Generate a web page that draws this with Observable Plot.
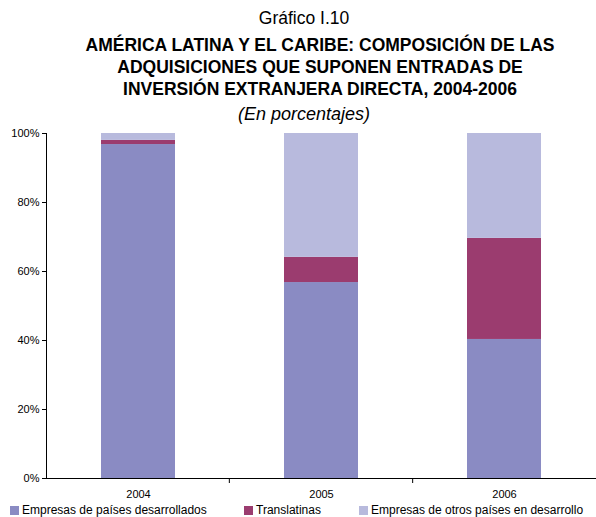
<!DOCTYPE html>
<html><head><meta charset="utf-8">
<script src="https://cdn.jsdelivr.net/npm/d3@7"></script>
<script src="https://cdn.jsdelivr.net/npm/@observablehq/plot@0.6"></script>
<style>
body{margin:0;width:596px;height:517px;background:#fff;font-family:"Liberation Sans",Arial,sans-serif;position:relative;overflow:hidden;color:#000}
.line{position:absolute;text-align:center;white-space:nowrap;line-height:22px}
#t0{top:7px;left:12px;width:584px;font-size:17.5px}
.tb{left:44px;width:552px;font-size:17.5px;font-weight:bold}
#sub{top:103px;left:12px;width:584px;font-size:18px;font-style:italic}
#chart{position:absolute;top:125px;left:0}
#legend{position:absolute;top:503px;left:0;width:596px;height:14px;font-size:12px}
.item{position:absolute;top:0;display:flex;align-items:center;white-space:nowrap}
.sw{width:9px;height:9px;margin-right:3px}
</style></head>
<body>
<div id="t0" class="line">Gráfico I.10</div>
<div class="line tb" style="top:34px">AMÉRICA LATINA Y EL CARIBE: COMPOSICIÓN DE LAS</div>
<div class="line tb" style="top:56px">ADQUISICIONES QUE SUPONEN ENTRADAS DE</div>
<div class="line tb" style="top:78px">INVERSIÓN EXTRANJERA DIRECTA, 2004-2006</div>
<div id="sub" class="line">(En porcentajes)</div>
<div id="chart"></div>
<div id="legend"></div>
<script>
const years = ["2004", "2005", "2006"];
const seriesNames = ["Empresas de países desarrollados", "Translatinas", "Empresas de otros países en desarrollo"];
const desarrollados = [96.8, 56.8, 40.3];
const translatinas = [1.2, 7.3, 29.3];
const otros = [2.0, 35.9, 30.4];
const colors = ["#8a8bc3", "#9b3c6f", "#b8badd"];
const yTicks = [0, 20, 40, 60, 80, 100];

const values = [desarrollados, translatinas, otros];
const data = [];
seriesNames.forEach((s, i) => years.forEach((y, j) => data.push({year: y, serie: s, value: values[i][j]})));

const plot = Plot.plot({
  width: 596,
  height: 380,
  marginTop: 8,
  marginBottom: 27,
  marginLeft: 46,
  marginRight: 0,
  style: {fontFamily: "'Liberation Sans', Arial, sans-serif", fontSize: "11px", color: "#000", background: "transparent"},
  x: {domain: years, paddingInner: 0.596, paddingOuter: 0.298, label: null},
  y: {domain: [0, 100], label: null},
  color: {domain: seriesNames, range: colors},
  marks: [
    Plot.barY(data, {x: "year", y: "value", fill: "serie"}),
    Plot.axisY({ticks: yTicks, tickFormat: d => d + "%", tickSize: 4, tickPadding: 3, stroke: "#000", fontSize: 11}),
    Plot.axisX({tickSize: 0, tickPadding: 12, fontSize: 11}),
    Plot.ruleY([0], {stroke: "#000"})
  ]
});
document.getElementById("chart").appendChild(plot);

// axis domain line and category boundary ticks, from the library's scales
const xs = plot.scale("x");
const ys = plot.scale("y");
const svg = d3.select(plot);
const y0 = ys.apply(0), y100 = ys.apply(100);
const xr0 = Math.min(...xs.range), xr1 = Math.max(...xs.range);
const step = (xr1 - xr0) / xs.domain.length;
svg.append("line").attr("x1", xr0 + 0.5).attr("x2", xr0 + 0.5).attr("y1", y100).attr("y2", y0).attr("stroke", "#000");
for (let i = 1; i < xs.domain.length; i++) {
  const xb = xr0 + step * i;
  svg.append("line").attr("x1", xb).attr("x2", xb).attr("y1", y0).attr("y2", y0 + 5).attr("stroke", "#000");
}

const legendX = [10, 244, 359];
const lg = document.getElementById("legend");
seriesNames.forEach((s, i) => {
  const d = document.createElement("div");
  d.className = "item";
  d.style.left = legendX[i] + "px";
  d.innerHTML = `<span class="sw" style="background:${colors[i]}"></span><span>${s}</span>`;
  lg.appendChild(d);
});
</script>
</body></html>
